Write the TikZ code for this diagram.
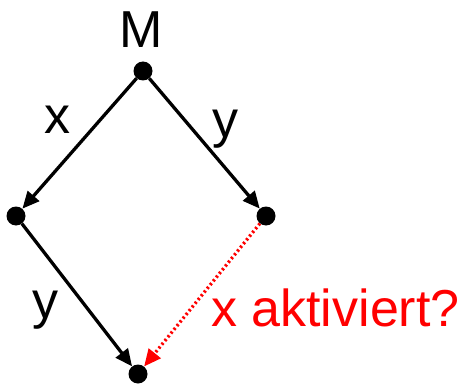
\documentclass[tikz,border=0pt]{standalone}
\usepackage{fontspec}
\setmainfont{Liberation Sans}
\usetikzlibrary{arrows.meta}
\begin{document}
\begin{tikzpicture}[x=1pt,y=-1pt,
  dot/.style={circle,fill=black,inner sep=0pt,minimum size=19pt},
  lbl/.style={inner sep=0pt,anchor=base,font=\fontsize{52}{52}\selectfont},
  arr/.style={line width=3.3pt,-{Triangle[length=17pt,width=15pt]}},
  redarr/.style={red,line width=3.3pt,dash pattern=on 2.2pt off 2.6pt,-{Triangle[length=17pt,width=15pt]}}]
\useasboundingbox (0,0) rectangle (463,385);
\node[dot] (t) at (143,71) {};
\node[dot] (l) at (16,216) {};
\node[dot] (r) at (266,216) {};
\node[dot] (b) at (138,374) {};
\draw[arr] (t) -- (l);
\draw[arr] (t) -- (r);
\draw[arr] (l) -- (b);
\draw[redarr] (r) -- (b);
\node[lbl] (m) at (141,48) {M};
\node[lbl] (x1) at (57,134) {x};
\node[lbl] (y1) at (225,138) {y};
\node[lbl] (y2) at (45,318) {y};
\node[lbl,anchor=base west,text=red] (q) at (211,326) {x aktiviert?};
\end{tikzpicture}
\end{document}
